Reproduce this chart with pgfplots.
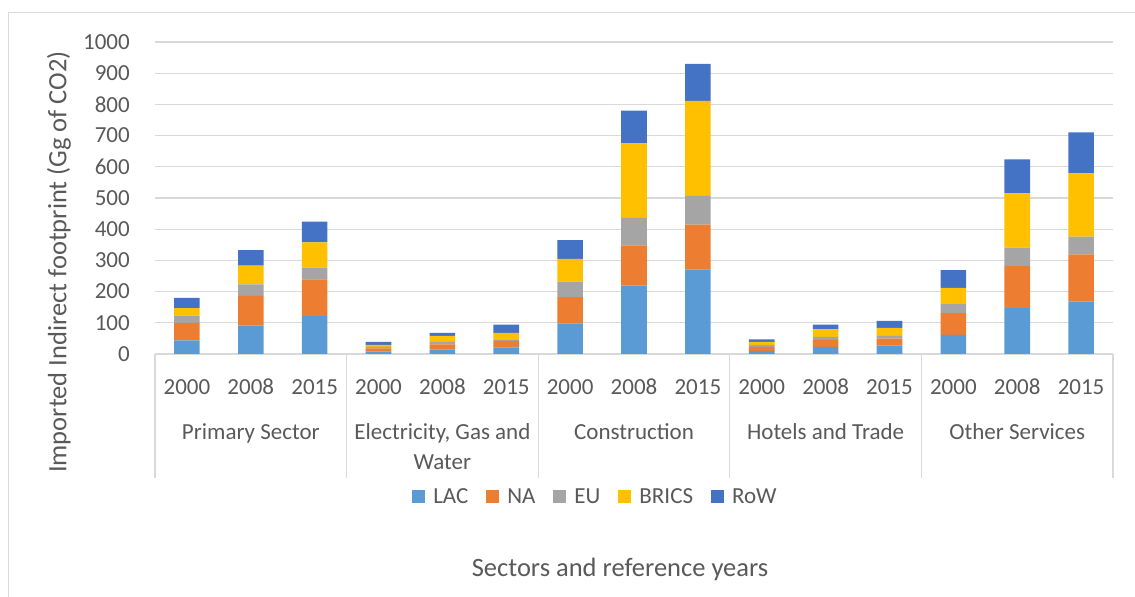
\documentclass[border=0pt]{standalone}
\usepackage{pgfplots}
\pgfplotsset{compat=1.18}
\usepackage{pgfplotstable}
\usepackage{fontspec}
\setmainfont{Carlito}
\definecolor{cLAC}{HTML}{5B9BD5}
\definecolor{cNA}{HTML}{ED7D31}
\definecolor{cEU}{HTML}{A5A5A5}
\definecolor{cBRICS}{HTML}{FFC000}
\definecolor{cRoW}{HTML}{4472C4}
\definecolor{txt}{HTML}{595959}
\definecolor{grd}{HTML}{D9D9D9}
\pgfplotstableread{
x LAC NA EU BRICS RoW
0 44 56 23 24 33
1 91 95 37 60 50
2 121 118 38 81 66
3 8 10 5 6 10
4 15 16 8 19 10
5 21 21 5 21 26
6 98 84 50 73 60
7 219 129 88 239 105
8 271 144 92 304 119
9 10 13 6 10 8
10 23 22 10 24 15
11 28 21 9 26 22
12 61 70 29 52 57
13 147 135 59 174 109
14 169 150 57 203 131
}\datatable
\newcommand{\tfont}{\fontsize{23bp}{27bp}\selectfont}
\newcommand{\Tfont}{\fontsize{26.5bp}{31bp}\selectfont}
\begin{document}
\begin{tikzpicture}
\path[use as bounding box] (0,0) rectangle (1135bp,597bp);
\draw[grd, line width=1bp] (8.5bp,0) -- (8.5bp,584.5bp) -- (1135bp,584.5bp);
\begin{axis}[
  at={(155bp,243bp)}, anchor=south west,
  scale only axis, width=958bp, height=312bp,
  xmin=-0.5, xmax=14.5, ymin=0, ymax=1000,
  enlargelimits=false, clip=false,
  ybar stacked, bar width=25.6bp,
  axis line style={draw=none},
  major tick length=0pt,
  ytick={0,100,...,1000},
  xtick={0,...,14},
  xticklabels={2000,2008,2015,2000,2008,2015,2000,2008,2015,2000,2008,2015,2000,2008,2015},
  ymajorgrids, grid style={grd, line width=1.3bp},
  tick label style={font=\tfont, text=txt},
  /pgf/number format/assume math mode=true,
  /pgf/number format/1000 sep={},
  yticklabel style={anchor=east, inner sep=0pt, xshift=-25bp},
  xticklabel style={anchor=center, inner sep=0pt, yshift=-33bp},
  legend image code/.code={\fill[#1] (0bp,-6.5bp) rectangle (13bp,6.5bp);},
  legend style={at={(0.4598,-0.458)}, anchor=center, draw=none, fill=none,
    legend columns=5, font=\tfont, text=txt,
    /tikz/every odd column/.append style={column sep=6bp},
    /tikz/every even column/.append style={column sep=16bp}},
]
\addplot[fill=cLAC, draw=none] table[x=x, y=LAC] {\datatable};
\addplot[fill=cNA, draw=none] table[x=x, y=NA] {\datatable};
\addplot[fill=cEU, draw=none] table[x=x, y=EU] {\datatable};
\addplot[fill=cBRICS, draw=none] table[x=x, y=BRICS] {\datatable};
\addplot[fill=cRoW, draw=none] table[x=x, y=RoW] {\datatable};
\legend{LAC,NA,EU,BRICS,RoW}
\draw[grd, line width=1.3bp] (axis cs:-0.5,0) -- ++(0bp,-124bp);
\draw[grd, line width=1.3bp] (axis cs:2.5,0) -- ++(0bp,-124bp);
\draw[grd, line width=1.3bp] (axis cs:5.5,0) -- ++(0bp,-124bp);
\draw[grd, line width=1.3bp] (axis cs:8.5,0) -- ++(0bp,-124bp);
\draw[grd, line width=1.3bp] (axis cs:11.5,0) -- ++(0bp,-124bp);
\draw[grd, line width=1.3bp] (axis cs:14.5,0) -- ++(0bp,-124bp);
\node[anchor=base, font=\tfont, text=txt, yshift=-85bp] at (axis cs:1,0) {Primary Sector};
\node[anchor=base, font=\tfont, text=txt, yshift=-85bp] at (axis cs:4,0) {Electricity, Gas and};
\node[anchor=base, font=\tfont, text=txt, yshift=-115bp] at (axis cs:4,0) {Water};
\node[anchor=base, font=\tfont, text=txt, yshift=-85bp] at (axis cs:7,0) {Construction};
\node[anchor=base, font=\tfont, text=txt, yshift=-85bp] at (axis cs:10,0) {Hotels and Trade};
\node[anchor=base, font=\tfont, text=txt, yshift=-85bp] at (axis cs:13,0) {Other Services};
\end{axis}
\node[rotate=90, font=\Tfont, text=txt] at (59bp,335bp) {Imported Indirect footprint (Gg of CO2)};
\node[anchor=base, font=\Tfont, text=txt] at (620bp,21bp) {Sectors and reference years};
\end{tikzpicture}
\end{document}
